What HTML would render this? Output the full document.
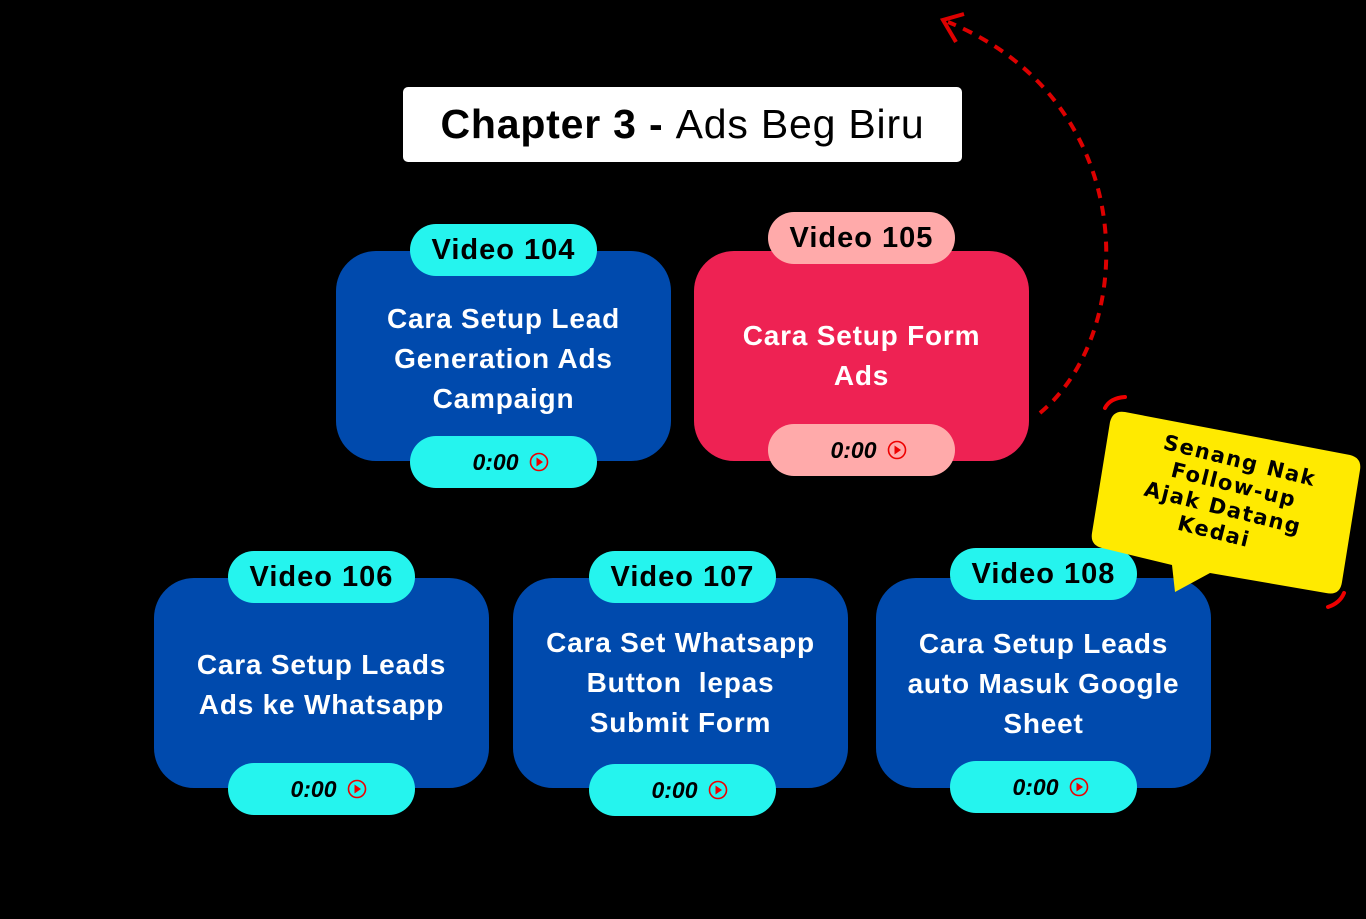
<!DOCTYPE html>
<html><head><meta charset="utf-8"><style>
*{margin:0;padding:0;box-sizing:border-box}
body{width:1366px;height:919px;background:#000;position:relative;overflow:hidden;font-family:"Liberation Sans",sans-serif}
.a{position:absolute}
.box{position:absolute;width:335px;height:210px;border-radius:40px;background:#004aad;color:#fff;font-weight:bold;font-size:28px;letter-spacing:0.8px;line-height:40px;text-align:center;display:flex;align-items:center;justify-content:center;padding:0 4px;white-space:nowrap}
.pill{position:absolute;width:187px;height:52px;border-radius:26px;background:#25f4ee;color:#000;font-weight:bold;font-size:29px;letter-spacing:1px;display:flex;align-items:center;justify-content:center}
.t{font-style:italic;font-weight:900;font-size:23px;letter-spacing:0;padding-left:14px}
.t svg{margin-left:10px}
</style></head><body>
<div class="a" style="left:403px;top:87px;width:559px;height:75px;background:#fff;border-radius:5px;font-size:41px;letter-spacing:0.8px;display:flex;align-items:center;justify-content:center;color:#000"><b>Chapter 3 -&nbsp;</b>Ads Beg Biru</div>

<div class="box" style="left:336px;top:251px;padding-top:6px">Cara Setup Lead<br>Generation Ads<br>Campaign</div>
<div class="pill" style="left:410px;top:224px">Video 104</div>
<div class="pill t" style="left:410px;top:436px">0:00<svg width="20" height="20" viewBox="0 0 20 20"><circle cx="10" cy="10" r="8.5" fill="none" stroke="#e00" stroke-width="1.6"/><path d="M7.5 5.5L14 10L7.5 14.5Z" fill="#e00"/></svg></div>

<div class="box" style="left:694px;top:251px;background:#ee2253">Cara Setup Form<br>Ads</div>
<div class="pill" style="left:768px;top:212px;background:#ffaaaa">Video 105</div>
<div class="pill t" style="left:768px;top:424px;background:#ffaaaa">0:00<svg width="20" height="20" viewBox="0 0 20 20"><circle cx="10" cy="10" r="8.5" fill="none" stroke="#e00" stroke-width="1.6"/><path d="M7.5 5.5L14 10L7.5 14.5Z" fill="#e00"/></svg></div>

<div class="box" style="left:154px;top:578px;padding-top:4px">Cara Setup Leads<br>Ads ke Whatsapp</div>
<div class="pill" style="left:228px;top:551px">Video 106</div>
<div class="pill t" style="left:228px;top:763px">0:00<svg width="20" height="20" viewBox="0 0 20 20"><circle cx="10" cy="10" r="8.5" fill="none" stroke="#e00" stroke-width="1.6"/><path d="M7.5 5.5L14 10L7.5 14.5Z" fill="#e00"/></svg></div>

<div class="box" style="left:513px;top:578px;padding-bottom:0px">Cara Set Whatsapp<br>Button &nbsp;lepas<br>Submit Form</div>
<div class="pill" style="left:589px;top:551px">Video 107</div>
<div class="pill t" style="left:589px;top:764px">0:00<svg width="20" height="20" viewBox="0 0 20 20"><circle cx="10" cy="10" r="8.5" fill="none" stroke="#e00" stroke-width="1.6"/><path d="M7.5 5.5L14 10L7.5 14.5Z" fill="#e00"/></svg></div>

<div class="box" style="left:876px;top:578px;padding-top:2px">Cara Setup Leads<br>auto Masuk Google<br>Sheet</div>
<div class="pill" style="left:950px;top:548px">Video 108</div>
<div class="pill t" style="left:950px;top:761px">0:00<svg width="20" height="20" viewBox="0 0 20 20"><circle cx="10" cy="10" r="8.5" fill="none" stroke="#e00" stroke-width="1.6"/><path d="M7.5 5.5L14 10L7.5 14.5Z" fill="#e00"/></svg></div>

<svg class="a" style="left:0;top:0" width="1366" height="919">
<path d="M1040 413 C1140 330 1140 100 948 22" fill="none" stroke="#d00" stroke-width="4" stroke-dasharray="10 8"/>
<path d="M964 14 L943 20 L956 42" fill="none" stroke="#d00" stroke-width="4"/>
<path d="M1125 412 L1350 455 Q1362 458 1360 470 L1342 582 Q1340 596 1326 593 L1210 573 L1175 592 L1172 565 L1102 548 Q1090 545 1092 533 L1110 422 Q1113 410 1125 412Z" fill="#ffea00"/>
<path d="M1105 408 Q1110 398 1125 397" fill="none" stroke="#e00" stroke-width="4" stroke-linecap="round"/>
<path d="M1328 607 Q1340 603 1344 593" fill="none" stroke="#e00" stroke-width="4" stroke-linecap="round"/>
<g transform="rotate(14 1228 500)" font-family="'DejaVu Sans',sans-serif" font-weight="bold" font-size="21" letter-spacing="1.5" text-anchor="middle" fill="#000">
<text x="1230" y="466">Senang Nak</text>
<text x="1230" y="491">Follow-up</text>
<text x="1225" y="516">Ajak Datang</text>
<text x="1222" y="541">Kedai</text>
</g>
</svg>
</body></html>
